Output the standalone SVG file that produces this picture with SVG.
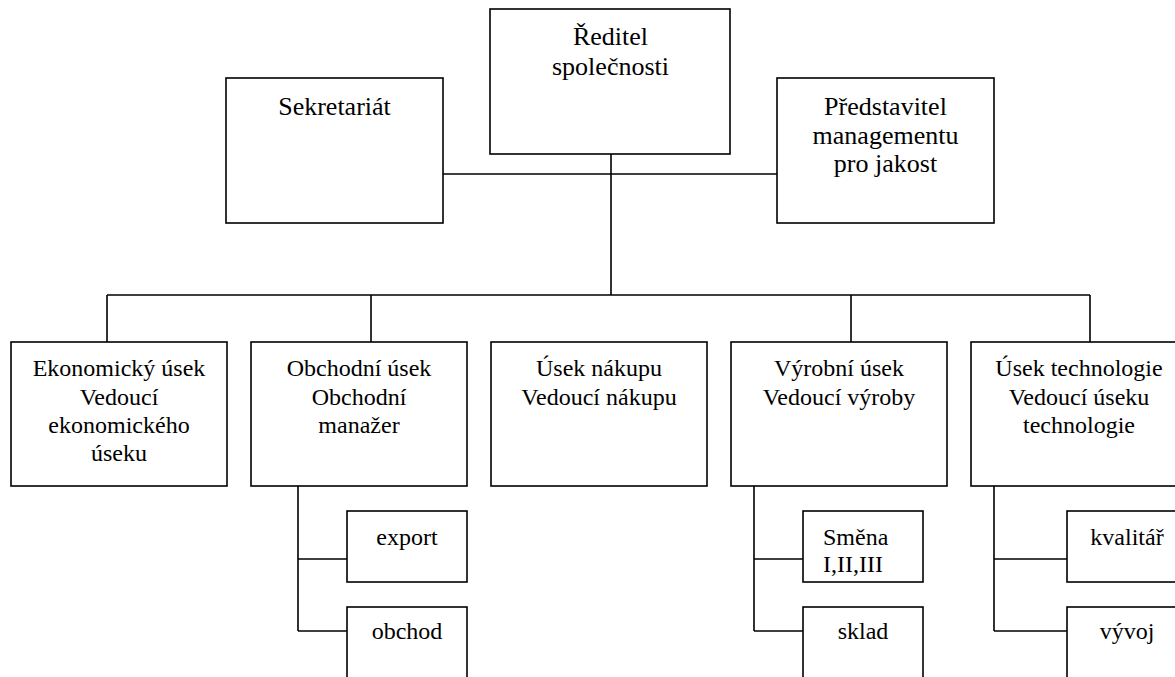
<svg xmlns="http://www.w3.org/2000/svg" width="1175" height="677" viewBox="0 0 1175 677">
<style>
.box{fill:#fff;stroke:#000;stroke-width:1.6}
.ln{fill:none;stroke:#000;stroke-width:1.6}
.t{font-family:'Liberation Serif','Times New Roman','DejaVu Serif',serif;font-size:24px;fill:#000;text-anchor:middle}
.big{font-size:26px}
.l{text-anchor:start}
</style>
<rect width="1175" height="677" fill="#fff"/>
<g id="connectors">
<path class="ln" d="M611 154V295M443 174H777M107 295H1090M107 295V342M371 295V342M851 295V342M1090 295V342"/>
<path class="ln" d="M298 486V631M298 559H347M298 631H347"/>
<path class="ln" d="M754 486V631M754 559H803M754 631H803"/>
<path class="ln" d="M994 486V631M994 559H1067M994 631H1067"/>
</g>
<g class="t" font-family="Liberation Serif, serif">
<g id="reditel" class="big"><rect class="box" x="490" y="9" width="240" height="145"/><text x="610.5" y="45">Ředitel</text><text x="610.5" y="74.5">společnosti</text></g>
<g id="sekretariat" class="big"><rect class="box" x="226" y="78" width="217" height="145"/><text x="334.5" y="115">Sekretariát</text></g>
<g id="predstavitel" class="big"><rect class="box" x="777" y="78" width="217" height="145"/><text x="885.5" y="115">Představitel</text><text x="885.5" y="143.5">managementu</text><text x="885.5" y="172">pro jakost</text></g>
<g id="ekonomicky"><rect class="box" x="11" y="342" width="216" height="144"/><text x="119" y="376">Ekonomický úsek</text><text x="119" y="404.5">Vedoucí</text><text x="119" y="432.5">ekonomického</text><text x="119" y="461">úseku</text></g>
<g id="obchodni"><rect class="box" x="251" y="342" width="216" height="144"/><text x="359" y="376">Obchodní úsek</text><text x="359" y="404.5">Obchodní</text><text x="359" y="432.5">manažer</text></g>
<g id="nakup"><rect class="box" x="491" y="342" width="216" height="144"/><text x="599" y="376">Úsek nákupu</text><text x="599" y="404.5">Vedoucí nákupu</text></g>
<g id="vyrobni"><rect class="box" x="731" y="342" width="216" height="144"/><text x="839" y="376">Výrobní úsek</text><text x="839" y="404.5">Vedoucí výroby</text></g>
<g id="technologie"><rect class="box" x="971" y="342" width="216" height="144"/><text x="1079" y="376">Úsek technologie</text><text x="1079" y="404.5">Vedoucí úseku</text><text x="1079" y="432.5">technologie</text></g>
<g id="export"><rect class="box" x="347" y="511" width="120" height="71"/><text x="407" y="545">export</text></g>
<g id="obchod"><rect class="box" x="347" y="607" width="120" height="90"/><text x="407" y="639">obchod</text></g>
<g id="smena"><rect class="box" x="803" y="511" width="120" height="71"/><text class="l" x="823" y="545">Směna</text><text class="l" x="823" y="572">I,II,III</text></g>
<g id="sklad"><rect class="box" x="803" y="607" width="120" height="90"/><text x="863" y="639">sklad</text></g>
<g id="kvalitar"><rect class="box" x="1067" y="511" width="120" height="71"/><text x="1127" y="545">kvalitář</text></g>
<g id="vyvoj"><rect class="box" x="1067" y="607" width="120" height="90"/><text x="1127" y="639">vývoj</text></g>
</g>
</svg>
